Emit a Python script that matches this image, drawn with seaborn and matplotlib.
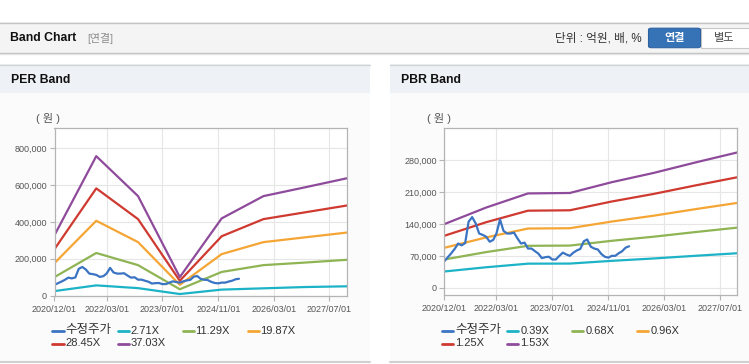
import pandas as pd
import matplotlib
matplotlib.use('Agg')
import matplotlib.pyplot as plt
import matplotlib.dates as mdates
from matplotlib.patches import Rectangle, FancyBboxPatch
from matplotlib.lines import Line2D
from matplotlib.ticker import FuncFormatter
import seaborn as sns

# 수정주가 (monthly, from 2020/12)
price_start = '2020-12-01'
price = [58000, 67000, 76000, 85000, 97000, 93000, 98000, 145000, 155000, 141000,
         119000, 116000, 112000, 101000, 105000, 119000, 150000, 125000, 119000, 119000,
         121000, 108000, 97000, 99000, 86000, 86000, 80000, 75000, 65000, 67000,
         68000, 62000, 62000, 70000, 77000, 73000, 70000, 77000, 82000, 85000,
         102000, 106000, 90000, 86000, 84000, 74000, 68000, 66000, 70000, 70000,
         76000, 80000, 88000, 91000]

band_dates = ['2020-12-01', '2021-12-01', '2022-12-01', '2023-12-01',
              '2024-12-01', '2025-12-01', '2026-12-01', '2027-12-01']

per_labels = ['2.71X', '11.29X', '19.87X', '28.45X', '37.03X']
per_271 = [24000, 55000, 40000, 8000, 32000, 39000, 46000, 50000]
per_1129 = [100000, 231000, 165000, 34000, 128000, 165000, 179000, 194000]
per_1987 = [176000, 406000, 290000, 58000, 225000, 290000, 316000, 342000]
per_2845 = [252000, 582000, 415000, 80000, 322000, 415000, 452000, 489000]
per_3703 = [328000, 757000, 540000, 100000, 419000, 540000, 588000, 637000]

pbr_labels = ['0.39X', '0.68X', '0.96X', '1.25X', '1.53X']
pbr_039 = [35600, 44900, 52800, 53000, 59000, 64200, 70100, 75700]
pbr_068 = [62000, 78200, 92000, 92500, 103000, 112000, 122200, 131900]
pbr_096 = [87600, 110400, 129900, 130600, 145300, 158100, 172500, 186200]
pbr_125 = [114000, 143800, 169100, 170000, 189300, 205900, 224600, 242500]
pbr_153 = [139600, 176000, 207000, 208000, 231700, 252000, 275000, 297000]

x_ticks = ['2020-12-01', '2022-03-01', '2023-07-01', '2024-11-01', '2026-03-01', '2027-07-01']

colors = ['#3a74c2', '#1db3c6', '#8fb454', '#f5a534', '#cf3a30', '#8f4b9b']

sns.set_style('white')
plt.rcParams['font.family'] = ['Liberation Sans', 'Noto Sans CJK KR']

W, H = 749, 364
fig = plt.figure(figsize=(W / 100, H / 100), dpi=100)


def box(x, y, w, h, **kw):
    fig.patches.append(Rectangle((x / W, 1 - (y + h) / H), w / W, h / H,
                                 transform=fig.transFigure, zorder=-10, **kw))


def hline(x0, x1, y, color, lw=1.0):
    fig.add_artist(Line2D([x0 / W, x1 / W], [1 - y / H] * 2, color=color, lw=lw,
                          transform=fig.transFigure))


def text(x, y, s, **kw):
    fig.text(x / W, 1 - y / H, s, va='center', **kw)


# top header bar
box(0, 22, W, 31, facecolor='#f4f4f4', edgecolor='none')
hline(0, W, 22.5, '#c4c4c4')
hline(0, W, 52.5, '#bdbdbd')
hline(0, W, 53.5, '#e4e4e4')
text(10, 38, 'Band Chart', weight='bold', size=8.8, color='#111111')
text(87, 38, '[연결]', size=7.8, color='#8a8a8a')
text(642, 38.5, '단위 : 억원, 배, %', ha='right', size=8.4, color='#333333')
fig.patches.append(FancyBboxPatch((648.5 / W, 1 - 47.7 / H), 52 / W, 19.5 / H,
                                  boxstyle='round,pad=0,rounding_size=0.004',
                                  transform=fig.transFigure, zorder=-5,
                                  facecolor='#3672b6', edgecolor='#2d62a0', lw=0.8))
box(700.5, 28.2, 50, 19.5, facecolor='white', edgecolor='#c8c8c8', lw=0.8)
text(674.5, 38.5, '연결', ha='center', weight='bold', size=8, color='white')
text(724, 38.5, '별도', ha='center', size=8, color='#444444')

# panels
for x0, x1, title in [(0, 370, 'PER Band'), (390, W, 'PBR Band')]:
    box(x0, 92.7, x1 - x0, 268.5, facecolor='#fbfbfb', edgecolor='none')
    box(x0, 64, x1 - x0, 28.7, facecolor='#eef1f6', edgecolor='none')
    hline(x0, x1, 64.5, '#d3d3d3')
    hline(x0, x1, 361.5, '#d0d0d0', lw=1.5)
    text(x0 + 11, 80, title, weight='bold', size=8.8, color='#111111')

price_df = pd.DataFrame({
    'date': pd.date_range(price_start, periods=len(price), freq='MS'),
    'value': price, 'series': '수정주가'})


def band_frame(labels, series_list):
    frames = [price_df]
    for lab, vals in zip(labels, series_list):
        frames.append(pd.DataFrame({'date': pd.to_datetime(band_dates),
                                    'value': vals, 'series': lab}))
    return pd.concat(frames, ignore_index=True)


per_df = band_frame(per_labels, [per_271, per_1129, per_1987, per_2845, per_3703])
pbr_df = band_frame(pbr_labels, [pbr_039, pbr_068, pbr_096, pbr_125, pbr_153])

ax1 = fig.add_axes([54.5 / W, 1 - 295.5 / H, 292.5 / W, 167.5 / H])
ax2 = fig.add_axes([444.3 / W, 1 - 295 / H, 293 / W, 166.7 / H])

setups = [
    (ax1, per_df, ['수정주가'] + per_labels, (0, 910000), range(0, 800001, 200000), 54.5, 48),
    (ax2, pbr_df, ['수정주가'] + pbr_labels, (-16000, 350000), range(0, 280001, 70000), 444.3, 439),
]

for ax, df, order, ylim, yticks, left, unit_x in setups:
    order_draw = order[1:] + order[:1]
    sns.lineplot(data=df, x='date', y='value', hue='series', hue_order=order_draw,
                 palette=dict(zip(order, colors)), linewidth=1.6, legend=False,
                 estimator=None, ax=ax)
    ax.set_xlim(pd.Timestamp('2020-12-01'), pd.Timestamp('2027-12-01'))
    ax.set_ylim(*ylim)
    ax.set_yticks(list(yticks))
    ax.yaxis.set_major_formatter(FuncFormatter(lambda v, p: f'{int(v):,}'))
    ax.set_xticks(pd.to_datetime(x_ticks))
    ax.xaxis.set_major_formatter(mdates.DateFormatter('%Y/%m/%d'))
    ax.set_xlabel('')
    ax.set_ylabel('')
    ax.grid(True, color='#e6e6e6', lw=0.8)
    ax.set_axisbelow(True)
    ax.set_facecolor('white')
    for s in ax.spines.values():
        s.set_color('#b4b4b4')
        s.set_linewidth(0.9)
    ax.tick_params(axis='both', which='both', direction='out', length=3.5,
                   width=0.8, color='#b4b4b4', labelsize=6.5, labelcolor='#555555',
                   left=True, bottom=True, pad=2)
    ax.tick_params(axis='x', pad=3)
    text(unit_x, 118.5, '( 원 )', ha='center', size=8, color='#555555')

    # legend
    base = left - 2
    slots = [(base, 330.5), (base + 65, 330.5), (base + 130, 330.5), (base + 195, 330.5),
             (base, 343.5), (base + 65, 343.5)]
    for (lx, ly), lab, col in zip(slots, order, colors):
        hline(lx, lx + 11, ly, col, lw=2)
        size = 9 if lab == '수정주가' else 8
        text(lx + 13, ly, lab, size=size, color='#333333')

fig.savefig('out.png', dpi=100, facecolor='white')
